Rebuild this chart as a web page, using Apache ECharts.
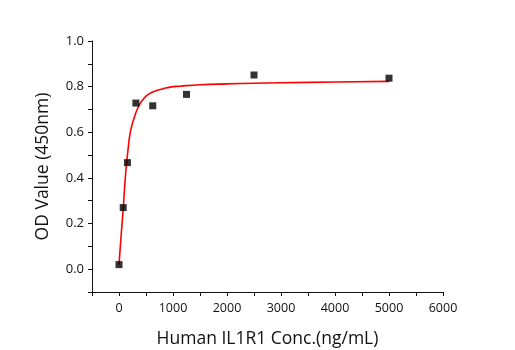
<!DOCTYPE html>
<html>
<head>
<meta charset="utf-8">
<script src="https://cdn.jsdelivr.net/npm/echarts@6/dist/echarts.min.js"></script>
<style>
  html, body { margin: 0; padding: 0; background: #fff; }
  #chart { width: 515px; height: 350px; }
</style>
</head>
<body>
<div id="chart"></div>
<script>
// measured standards
const conc = [0, 78, 156, 312.5, 625, 1250, 2500, 5000]
const odValue = [0.02, 0.27, 0.467, 0.728, 0.716, 0.766, 0.851, 0.837]

// fitted curve
const fitX = [0, 40, 80, 110, 142, 175, 204, 250, 296, 340, 389, 450, 512, 600, 698, 820, 944, 1130, 1500, 2000, 2500, 3000, 4000, 5000]
const fitY = [0.02, 0.15, 0.271, 0.38, 0.468, 0.54, 0.593, 0.64, 0.674, 0.702, 0.725, 0.745, 0.761, 0.774, 0.783, 0.791, 0.798, 0.802, 0.808, 0.812, 0.815, 0.817, 0.820, 0.823]

const font = "'Open Sans', 'Noto Sans', sans-serif"

const chart = echarts.init(document.getElementById('chart'))
chart.setOption({
    animation: false,
    grid: { left: 92, right: 72, top: 41, bottom: 58, outerBoundsMode: 'none', containLabel: false },
    xAxis: {
        type: 'value',
        min: -500,
        max: 6000,
        interval: 500,
        name: 'Human IL1R1 Conc.(ng/mL)',
        nameLocation: 'middle',
        nameGap: 38,
        nameTextStyle: { fontFamily: font, fontSize: 17.5, color: '#111' },
        axisLine: { onZero: false, lineStyle: { color: '#111', width: 1 } },
        axisTick: { inside: false, length: 4, lineStyle: { color: '#111' } },
        axisLabel: {
            fontFamily: font, fontSize: 12.5, color: '#111', margin: 10,
            formatter: v => (v >= 0 && v % 1000 === 0) ? String(v) : ''
        },
        splitLine: { show: false }
    },
    yAxis: {
        type: 'value',
        min: -0.1,
        max: 1.0,
        interval: 0.1,
        name: 'OD Value (450nm)',
        nameLocation: 'middle',
        nameGap: 40,
        nameTextStyle: { fontFamily: font, fontSize: 17.5, color: '#111' },
        axisLine: { show: true, onZero: false, lineStyle: { color: '#111', width: 1 } },
        axisTick: { show: true, length: 4, lineStyle: { color: '#111' } },
        axisLabel: {
            fontFamily: font, fontSize: 13, color: '#111', margin: 8,
            formatter: v => {
                const k = Math.round(v * 10)
                return (k >= 0 && k % 2 === 0) ? (k / 10).toFixed(1) : ''
            }
        },
        splitLine: { show: false }
    },
    series: [
        {
            type: 'line',
            data: fitX.map((x, i) => [x, fitY[i]]),
            smooth: true,
            showSymbol: false,
            lineStyle: { color: '#ff0000', width: 1.6 },
            z: 2
        },
        {
            type: 'scatter',
            data: conc.map((x, i) => [x, odValue[i]]),
            symbol: 'rect',
            symbolSize: 7,
            itemStyle: { color: '#000' },
            z: 3
        }
    ]
})
</script>
</body>
</html>
